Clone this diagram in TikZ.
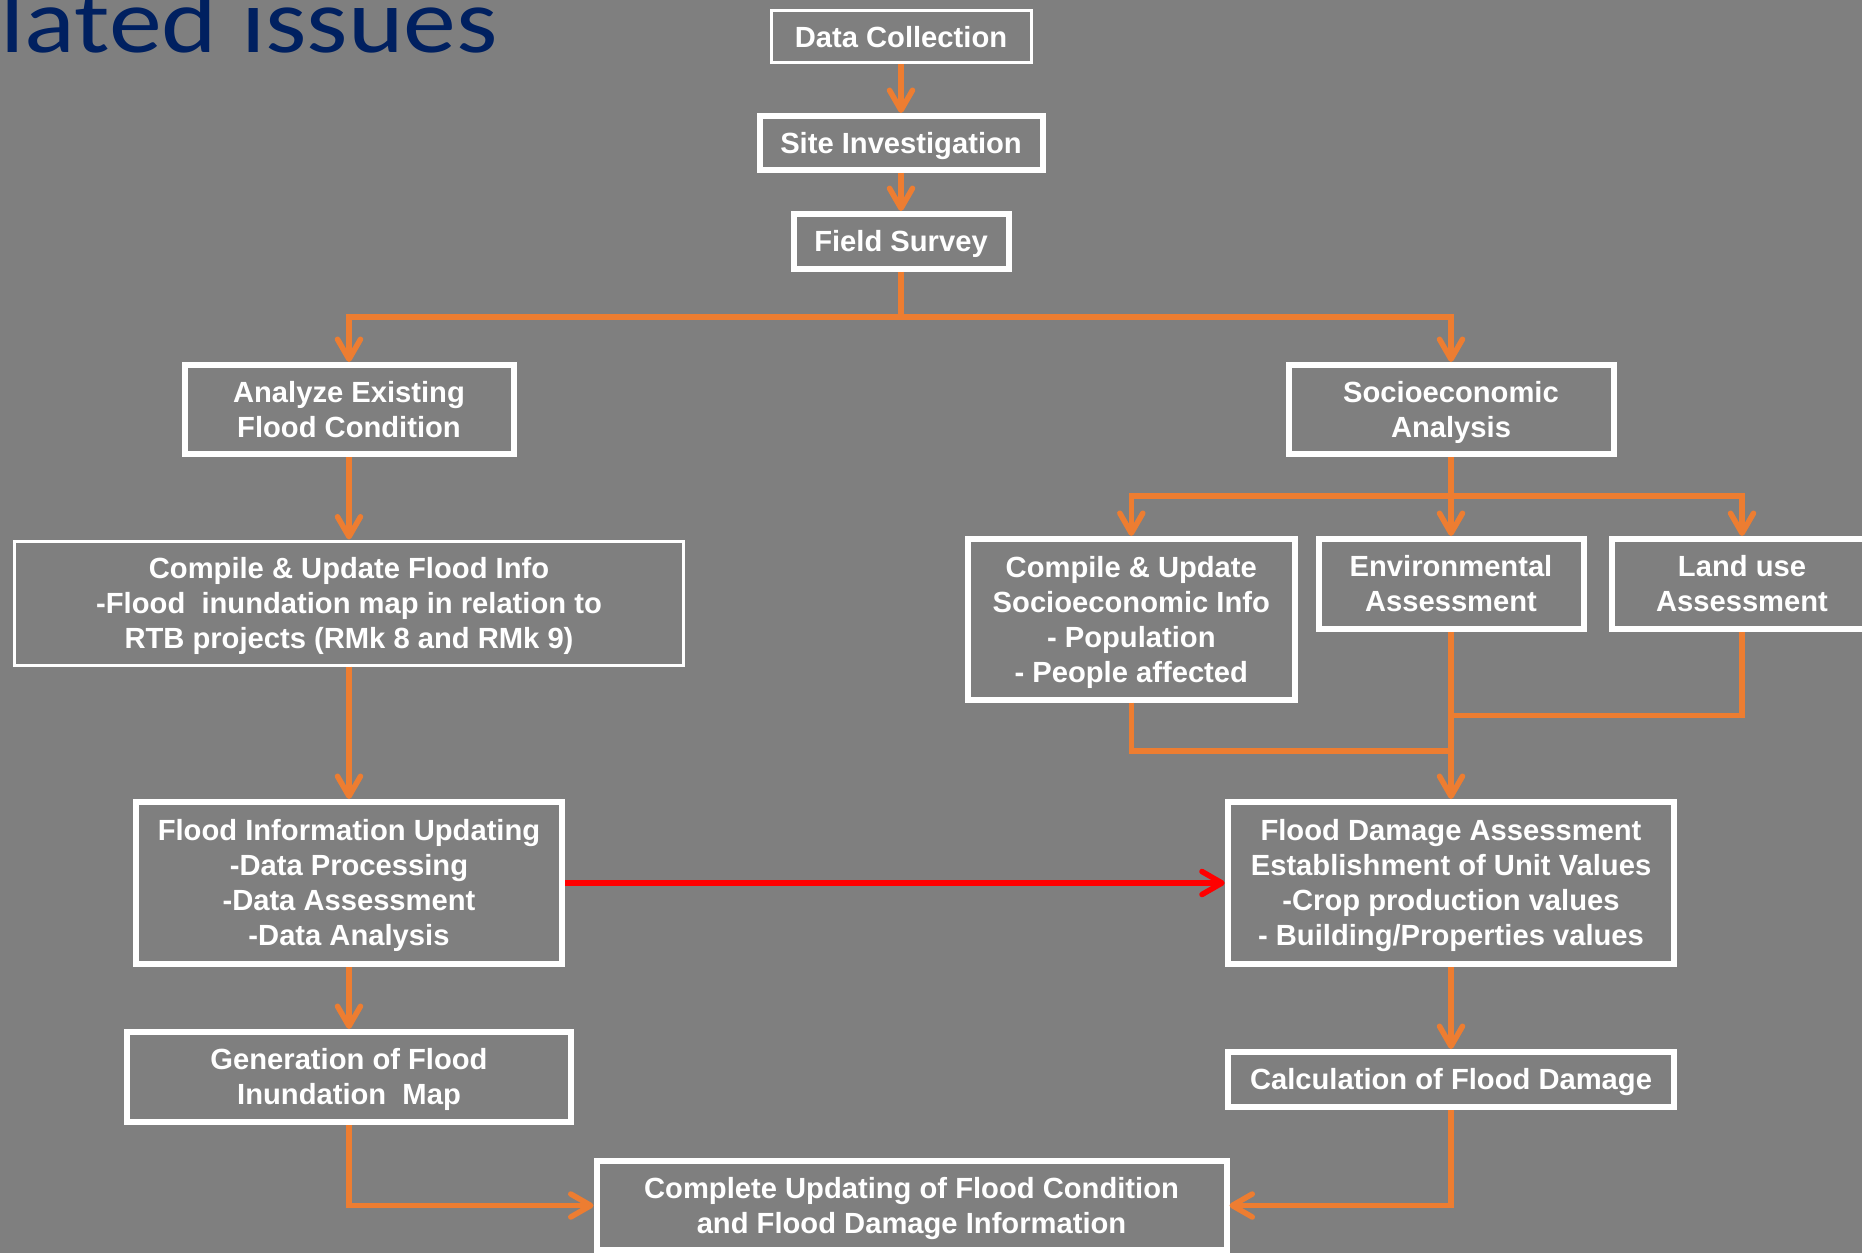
\documentclass[tikz,border=0pt]{standalone}
\usepackage{fontspec}
\setmainfont{Liberation Sans}
\newfontfamily\headfont{Carlito}[FakeStretch=1.15]
\usetikzlibrary{arrows.meta}

\definecolor{slidegray}{RGB}{127,127,127}
\definecolor{lineorange}{RGB}{237,125,49}
\definecolor{titleblue}{RGB}{0,32,96}

\begin{document}
\begin{tikzpicture}[
  box/.style={draw=white, line width=0.06cm, text=white, align=flush center, inner sep=0pt,
    font=\bfseries\fontsize{8.3}{9.96}\selectfont,
    execute at begin node={\rule{0pt}{1em}},
    execute at end node={\rule[-0.284em]{0pt}{0.284em}}},
  thinbox/.style={box, line width=0.03cm},
  boxsize/.style 2 args={text width=#1, minimum width=#1, minimum height=#2},
  link/.style={draw=lineorange, line width=0.055cm},
  flow/.style={link, -{Straight Barb[length=0.2cm,width=0.23cm,round]}},
  redflow/.style={flow, draw=red}
]
  % Slide background and frame
  \path[use as bounding box, fill=slidegray] (0,0) rectangle (18.62,-12.53);
  \clip (0,0) rectangle (18.62,-12.53);

  % Title rest at the top left
  \node[anchor=base west, inner sep=0pt, text=titleblue,
        font=\headfont\fontsize{26.2}{30}\selectfont] (title) at (0.0,-0.53) {lated issues};

  % Top chain
  \node[thinbox, boxsize={2.60cm}{0.52cm}] (datacol) at (9.01,-0.366) {Data Collection};
  \node[box, boxsize={2.83cm}{0.54cm}] (siteinv) at (9.01,-1.43) {Site Investigation};
  \node[box, boxsize={2.15cm}{0.547cm}] (fieldsur) at (9.01,-2.414) {Field Survey};

  % Left column
  \node[box, boxsize={3.29cm}{0.89cm}] (analyze) at (3.49,-4.095) {Analyze Existing\\Flood Condition};
  \node[thinbox, boxsize={6.69cm}{1.24cm}] (compflood) at (3.49,-6.03)
       {Compile \& Update Flood Info\\-Flood\ \ inundation map in relation to\\RTB projects (RMk 8 and RMk 9)};
  \node[box, boxsize={4.265cm}{1.62cm}] (floodinfo) at (3.49,-8.83)
       {Flood Information Updating\\-Data Processing\\-Data Assessment\\-Data Analysis};
  \node[box, boxsize={4.44cm}{0.90cm}] (genmap) at (3.49,-10.77) {Generation of Flood\\Inundation\ \ Map};

  % Right column
  \node[box, boxsize={3.25cm}{0.89cm}] (socio) at (14.51,-4.095) {Socioeconomic\\Analysis};
  \node[box, boxsize={3.274cm}{1.607cm}] (compsocio) at (11.313,-6.193)
       {Compile \& Update\\Socioeconomic Info\\- Population\\- People affected};
  \node[box, boxsize={2.65cm}{0.90cm}] (envass) at (14.51,-5.84) {Environmental\\Assessment};
  \node[box, boxsize={2.60cm}{0.90cm}] (landuse) at (17.42,-5.84) {Land use\\Assessment};
  \node[box, boxsize={4.466cm}{1.62cm}] (flooddam) at (14.51,-8.83)
       {Flood Damage Assessment\\Establishment of Unit Values\\-Crop production values\\- Building/Properties values};
  \node[box, boxsize={4.466cm}{0.55cm}] (calcdam) at (14.51,-10.795) {Calculation of Flood Damage};

  % Bottom box
  \node[box, boxsize={6.30cm}{0.89cm}] (complete) at (9.115,-12.055)
       {Complete Updating of Flood Condition\\and Flood Damage Information};

  % Split and merge points
  \coordinate (split1) at (9.01,-3.17);
  \coordinate (split2) at (14.51,-4.96);
  \coordinate (merge1) at (14.51,-7.51);
  \coordinate (merge2) at (14.51,-7.155);

  % Draw top chain arrows
  \draw[flow] (datacol) -- (siteinv);
  \draw[flow] (siteinv) -- (fieldsur);
  \draw[link] (fieldsur.south) -- (split1);
  \draw[flow] (split1) -| (analyze.north);
  \draw[flow] (split1) -| (socio.north);

  % Draw left column arrows
  \draw[flow] (analyze) -- (compflood);
  \draw[flow] (compflood) -- (floodinfo);
  \draw[flow] (floodinfo) -- (genmap);
  \draw[flow] (genmap.south) |- (complete.west);

  % Draw right column arrows
  \draw[link] (socio.south) -- (split2);
  \draw[flow] (split2) -| (compsocio.north);
  \draw[flow] (split2) -- (envass.north);
  \draw[flow] (split2) -| (landuse.north);
  \draw[link] (compsocio.south) |- (merge1);
  \draw[link] (landuse.south) |- (merge2);
  \draw[flow] (envass) -- (flooddam);
  \draw[flow] (flooddam) -- (calcdam);
  \draw[flow] (calcdam.south) |- (complete.east);

  % Red link between the two updating boxes
  \draw[redflow] (floodinfo) -- (flooddam);
\end{tikzpicture}
\end{document}
